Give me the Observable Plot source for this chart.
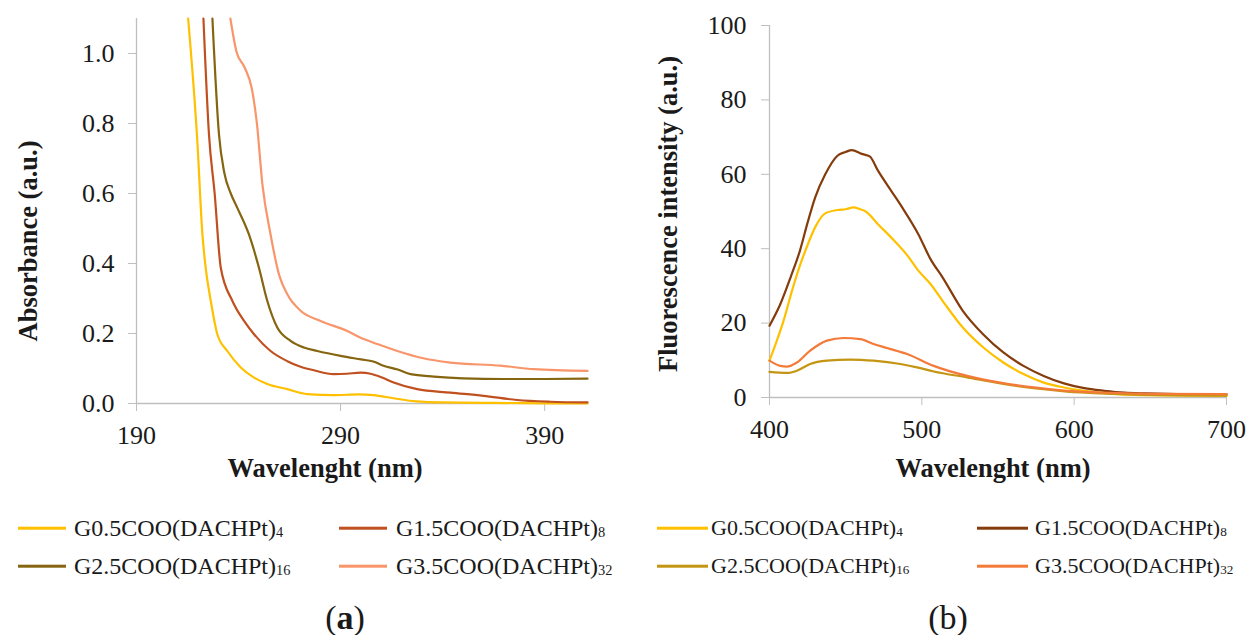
<!DOCTYPE html>
<html><head><meta charset="utf-8">
<script src="https://cdn.jsdelivr.net/npm/d3@7"></script>
<script src="https://cdn.jsdelivr.net/npm/@observablehq/plot@0.6"></script>
<style>
html,body{margin:0;padding:0;background:#fff;}
#wrap{position:relative;width:1252px;height:635px;overflow:hidden;font-family:"Liberation Serif","Tinos","Times New Roman","DejaVu Serif",serif;color:#1a1a1a;background:#fff;}
#wrap svg, #wrap svg text{font-family:"Liberation Serif","Tinos","Times New Roman","DejaVu Serif",serif !important;}
.panel{position:absolute;top:0;}
.t{position:absolute;white-space:nowrap;line-height:1;}
.ytitle{font-weight:bold;font-size:26.5px;transform:translate(-50%,-50%) rotate(-90deg);}
.xtitle{font-weight:bold;font-size:26.5px;transform:translate(-50%,-50%);}
.lg{transform:translateY(-50%);}
.sw{position:absolute;height:2.6px;transform:translateY(-50%);}
.sub{font-size:0.6em;vertical-align:-0.05em;}
.cap{font-size:34px;transform:translate(-50%,-50%);}
</style>
</head><body>
<div id="wrap"></div>
<script>
// ---------- DATA ----------
const seriesNames = ["G0.5COO(DACHPt)", "G1.5COO(DACHPt)", "G2.5COO(DACHPt)", "G3.5COO(DACHPt)"];
const seriesSubs = ["4", "8", "16", "32"];

// (a) Absorbance vs wavelength [nm, a.u.]
const absG05 = [[215.3,1.1],[219.8,0.75],[222.3,0.483],[223.9,0.388],[226.4,0.293],[229.6,0.198],[234.5,0.15],[241.1,0.103],[247.6,0.074],[254.1,0.056],[263.9,0.041],[273.7,0.027],[286.7,0.024],[299,0.026],[306,0.024],[316,0.015],[327,0.006],[340,0.003],[360,0.002],[380,0.001],[411,0]];
const absG15 = [[222.8,1.1],[225.5,0.77],[228.3,0.6],[231.3,0.388],[237,0.293],[242.7,0.236],[247.6,0.198],[255.7,0.15],[263.9,0.121],[270.4,0.105],[276.9,0.095],[286.7,0.084],[293,0.085],[299.8,0.088],[304.7,0.085],[310,0.075],[316,0.06],[327.5,0.041],[343.8,0.031],[360,0.022],[376.5,0.01],[392.8,0.005],[411,0.003]];
const absG25 = [[227.2,1.1],[230.4,0.77],[233,0.66],[236.2,0.6],[239.4,0.559],[245.1,0.483],[250,0.388],[254.1,0.293],[259,0.217],[265.5,0.179],[272,0.16],[278.6,0.15],[290,0.136],[300,0.126],[306,0.12],[311,0.108],[318,0.097],[324.3,0.084],[335.7,0.077],[350,0.072],[370,0.07],[390,0.07],[411,0.071]];
const absG35 = [[236,1.1],[239,1.005],[243,0.96],[246.5,0.9],[249,0.8],[251.7,0.626],[255.7,0.483],[259.8,0.369],[263.9,0.312],[270.4,0.265],[280.2,0.236],[293.3,0.207],[299.8,0.188],[308,0.17],[317.8,0.15],[330,0.13],[343.8,0.117],[368.3,0.108],[384.6,0.098],[411,0.093]];

// (b) Fluorescence intensity vs wavelength [nm, a.u.]
const fluG05 = [[400,9.9],[405,15.5],[409.2,20.6],[415,29],[420,35.5],[425,41],[430,45.8],[436.6,49.5],[444.6,50.4],[450,50.6],[455.2,51.1],[459,50.7],[463.2,50],[471.2,46.6],[481.8,42.2],[489.7,38.6],[497.7,34.1],[505.7,30.5],[513.6,26],[526.9,18.8],[540.2,13.5],[553.5,9.4],[566.7,6.3],[580,4],[593.3,2.7],[606.6,1.8],[619.8,1.2],[646.4,0.6],[700,0.4]];
const fluG15 = [[400,19.3],[407,25],[414,32.5],[420,39.5],[425,47],[430,53.8],[436.6,60],[444.6,65],[450,66],[454,66.5],[460.5,65.5],[465.8,64.8],[471.2,61],[480,55.5],[487.1,51.1],[497.7,43.9],[505.7,37.2],[513.6,32.3],[526.9,23.3],[540.2,17],[553.5,12.1],[566.7,8.5],[580,5.8],[593.3,3.8],[606.6,2.5],[619.8,1.8],[633,1.3],[646.4,1.1],[673,0.9],[700,0.9]];
const fluG25 = [[400,6.9],[411.4,6.6],[418,7.2],[426.7,9],[437.7,9.9],[453,10.2],[468.3,9.9],[485.9,9],[496.8,8.1],[507.8,7],[529.7,5.4],[551.6,3.8],[573.5,2.5],[595.4,1.6],[617.3,1.1],[650,0.7],[700,0.5]];
const fluG35 = [[400,9.9],[407,8.5],[411.4,8.3],[418,9.4],[426.7,12.6],[437.7,15.3],[448.6,16],[459.6,15.7],[468.3,14.4],[477.1,13.3],[490.3,11.7],[507.8,8.5],[529.7,5.8],[551.6,4],[573.5,2.7],[595.4,1.8],[617.3,1.35],[650,1],[700,0.9]];

const absTicksX = [190, 290, 390];
const absTicksY = [0, 0.2, 0.4, 0.6, 0.8, 1.0];
const fluTicksX = [400, 500, 600, 700];
const fluTicksY = [0, 20, 40, 60, 80, 100];

const absColors = ["#FFC000", "#C0501F", "#85650F", "#F9956A"];
const fluColors = ["#FFC000", "#843C0C", "#C49512", "#F47A3A"];

// ---------- BUILD ----------
function tidy(list) {
  const rows = [];
  list.forEach((arr, i) => arr.forEach(([w, v]) => rows.push({wl: w, val: v, s: seriesNames[i]})));
  return rows;
}
const wrap = document.getElementById("wrap");
const axisGray = "#bfbfbf";
const FONT = "'Liberation Serif', 'Tinos', 'Times New Roman', 'DejaVu Serif', serif";

const plotA = Plot.plot({
  width: 626, height: 490,
  marginLeft: 136, marginRight: 39, marginTop: 18, marginBottom: 87,
  style: {fontFamily: FONT, fontSize: "26px", color: "#1a1a1a", background: "transparent"},
  x: {domain: [190, 411], label: null},
  y: {domain: [0, 1.1], label: null},
  color: {domain: seriesNames, range: absColors},
  marks: [
    Plot.ruleY([0], {stroke: axisGray, strokeWidth: 1.3}),
    Plot.ruleX([190], {stroke: axisGray, strokeWidth: 1.3}),
    Plot.axisX(absTicksX, {tickSize: 8, tickPadding: 14, stroke: axisGray, fill: "#1a1a1a", fontSize: 26, label: null, tickFormat: d => String(d)}),
    Plot.axisY(absTicksY, {tickSize: 8, tickPadding: 14, stroke: axisGray, fill: "#1a1a1a", fontSize: 26, label: null, tickFormat: d3.format(".1f")}),
    Plot.line(tidy([absG05, absG15, absG25, absG35]), {x: "wl", y: "val", z: "s", stroke: "s", strokeWidth: 2.2, curve: "monotone-x"})
  ]
});
plotA.classList.add("panel");
plotA.style.left = "0px";
wrap.appendChild(plotA);

const plotB = Plot.plot({
  width: 626, height: 490,
  marginLeft: 143, marginRight: 26, marginTop: 25, marginBottom: 93,
  style: {fontFamily: FONT, fontSize: "26px", color: "#1a1a1a", background: "transparent", overflow: "visible"},
  x: {domain: [400, 700], label: null},
  y: {domain: [0, 100], label: null},
  color: {domain: seriesNames, range: fluColors},
  marks: [
    Plot.ruleY([0], {stroke: axisGray, strokeWidth: 1.3}),
    Plot.ruleX([400], {stroke: axisGray, strokeWidth: 1.3}),
    Plot.axisX(fluTicksX, {tickSize: 8, tickPadding: 14, stroke: axisGray, fill: "#1a1a1a", fontSize: 26, label: null, tickFormat: d => String(d)}),
    Plot.axisY(fluTicksY, {tickSize: 8, tickPadding: 15, stroke: axisGray, fill: "#1a1a1a", fontSize: 26, label: null, tickFormat: d => String(d)}),
    Plot.line(tidy([fluG05, fluG15, fluG25, fluG35]), {x: "wl", y: "val", z: "s", stroke: "s", strokeWidth: 2.2, curve: "monotone-x"})
  ]
});
plotB.classList.add("panel");
plotB.style.left = "626px";
wrap.appendChild(plotB);

function addText(cls, x, y, html, extra) {
  const d = document.createElement("div");
  d.className = "t " + cls;
  d.style.left = x + "px";
  d.style.top = y + "px";
  d.innerHTML = html;
  if (extra) Object.assign(d.style, extra);
  wrap.appendChild(d);
  return d;
}
// axis titles
addText("ytitle", 28, 241, "Absorbance (a.u.)");
addText("ytitle", 668, 214, "Fluorescence intensity (a.u.)");
addText("xtitle", 325, 468, "Wavelenght (nm)");
addText("xtitle", 993, 468, "Wavelenght (nm)");

// legends
function legend(colors, cols, rowsY, lineLen, fontSize) {
  seriesNames.forEach((n, i) => {
    const c = cols[i % 2], y = rowsY[Math.floor(i / 2)];
    const sw = document.createElement("div");
    sw.className = "sw";
    sw.style.left = c.line + "px";
    sw.style.top = y + "px";
    sw.style.width = lineLen + "px";
    sw.style.background = colors[i];
    wrap.appendChild(sw);
    addText("lg", c.text, y, n + '<span class="sub">' + seriesSubs[i] + "</span>", {fontSize: fontSize + "px"});
  });
}
legend(absColors, [{line: 18, text: 74}, {line: 339, text: 396}], [528, 566], 48, 24);
legend(fluColors, [{line: 657, text: 711}, {line: 977, text: 1035}], [528, 566], 51, 22);

// panel captions
addText("cap", 345, 618, '(<b>a</b>)');
addText("cap", 948, 618, '(b)');
</script>
</body></html>
